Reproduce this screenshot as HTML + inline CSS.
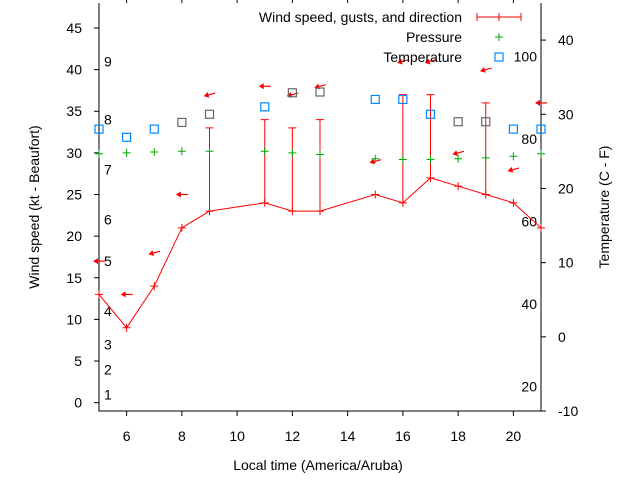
<!DOCTYPE html>
<html><head><meta charset="utf-8"><style>
body{margin:0;background:#fff}
svg{display:block;font-family:"Liberation Sans",sans-serif}
</style></head><body>
<svg id="chart" width="640" height="480">
<g id="axes"></g>
<g id="marks"></g>
<g id="legend"></g>
</svg>
<script>
const hours=[5,6,7,8,9,11,12,13,15,16,17,18,19,20,21];
const windSpeed=[13,9,14,21,23,24,23,23,25,24,27,26,25,24,21];
const gustHours=[9,11,12,13,16,17,19];
const gustSpeed=[33,34,33,34,37,37,36];
const arrowY=[17,13,18,25,37,38,37,38,29,41,41,30,40,28,36];
const arrowTilt=[0,0,15,0,15,0,15,15,15,15,15,15,15,15,0];
const pressure=[29.9,30,30.1,30.2,30.2,30.2,30,29.8,29.3,29.2,29.2,29.3,29.4,29.6,29.9];
const tempC=[28,26.9,28,28.9,30,31,32.9,33,32,32,30,29,29,28,28];
const xTicks=[6,8,10,12,14,16,18,20];
const yTicks=[0,5,10,15,20,25,30,35,40,45];
const y2Ticks=[-10,0,10,20,30,40];
const beaufort=[[1,1],[2,4],[3,7],[4,11],[5,17],[6,22],[7,28],[8,34],[9,41]];
const fahr=[20,40,60,80,100];

const NS="http://www.w3.org/2000/svg";
const L=99,R=541,T=3,B=411;
const X=h=>L+(h-5)/(21-5)*(R-L);
const Y=v=>B-(v-(-1))/(48-(-1))*(B-T);
const Y2=c=>B-(c-(-10))/(45-(-10))*(B-T);
function el(parent,tag,attrs,text){const e=document.createElementNS(NS,tag);for(const k in attrs)e.setAttribute(k,attrs[k]);if(text!==undefined)e.textContent=text;parent.appendChild(e);return e;}
const axes=document.getElementById('axes'),marks=document.getElementById('marks'),leg=document.getElementById('legend');
let e;
e=el(axes,'path',{d:`M${L} ${T}V${B}H${R}V${T}`,stroke:'#000',fill:'none','stroke-width':1});


xTicks.forEach(t=>{
 el(axes,'line',{x1:X(t),x2:X(t),y1:B,y2:B+5,stroke:'#000'});
 el(axes,'line',{x1:X(t),x2:X(t),y1:T,y2:T-5,stroke:'#000'});
 e=el(axes,'text',{x:X(t),y:441,'text-anchor':'middle','font-size':14},t);
 
 
});
yTicks.forEach(t=>{
 el(axes,'line',{x1:L-5,x2:L,y1:Y(t),y2:Y(t),stroke:'#000'});
 e=el(axes,'text',{x:82,y:Y(t)+5,'text-anchor':'end','font-size':14},t);
 
 
});
y2Ticks.forEach(t=>{
 el(axes,'line',{x1:R,x2:R+5,y1:Y2(t),y2:Y2(t),stroke:'#000'});
 e=el(axes,'text',{x:558,y:Y2(t)+5,'font-size':14},t);
 
 
});
beaufort.forEach(b=>{
 e=el(axes,'text',{x:104,y:Y(b[1])+5,'font-size':14},b[0]);
 
 
});
fahr.forEach(f=>{
 e=el(axes,'text',{x:537,y:Y2((f-32)*5/9)+5,'text-anchor':'end','font-size':14},f);
 
 
});
e=el(axes,'text',{x:318,y:470,'text-anchor':'middle','font-size':14},'Local time (America/Aruba)');


e=el(axes,'text',{x:0,y:0,'text-anchor':'middle','font-size':14,transform:'translate(39,207) rotate(-90)'},'Wind speed (kt - Beaufort)');


e=el(axes,'text',{x:0,y:0,'text-anchor':'middle','font-size':14,transform:'translate(609,207) rotate(-90)'},'Temperature (C - F)');



e=el(marks,'polyline',{points:hours.map((h,i)=>X(h)+','+Y(windSpeed[i])).join(' '),fill:'none',stroke:'#f00','stroke-width':1});


hours.forEach((h,i)=>{
 e=el(marks,'path',{d:`M${X(h)-4} ${Y(windSpeed[i])}h8M${X(h)} ${Y(windSpeed[i])-4}v8`,stroke:'#f00'});
 
 
});
gustHours.forEach((h,i)=>{
 const idx=hours.indexOf(h);const y0=Y(windSpeed[idx]),y1=Y(gustSpeed[i]);
 e=el(marks,'path',{d:`M${X(h)} ${y0}V${y1}M${X(h)-4} ${y1}h8`,stroke:'#f00'});
 
 
});
hours.forEach((h,i)=>{
 const cx=X(h),cy=Y(arrowY[i]);
 e=el(marks,'g',{transform:`translate(${cx},${cy}) rotate(${-arrowTilt[i]})`});
 
 
 el(e,'line',{x1:-4,x2:6,y1:0,y2:0,stroke:'#f00','stroke-width':1.2});
 el(e,'path',{d:'M-6 0L-1 -3L-1 3Z',fill:'#f00'});
});
hours.forEach((h,i)=>{
 e=el(marks,'path',{d:`M${X(h)-4} ${Y(pressure[i])}h8M${X(h)} ${Y(pressure[i])-4}v8`,stroke:'#0a0'});
 
 
});
const grayT=[8,9,12,13,18,19];
hours.forEach((h,i)=>{
 e=el(marks,'rect',{x:X(h)-4,y:Y2(tempC[i])-4,width:8,height:8,fill:'none',stroke:grayT.includes(h)?'#666':'#08f','stroke-width':1.2});
 
 
});

const lg=[['Wind speed, gusts, and direction',17],['Pressure',37],['Temperature',57]];
lg.forEach((l,i)=>{
 e=el(leg,'text',{x:462,y:l[1]+5,'text-anchor':'end','font-size':14},l[0]);
 
 
});
el(leg,'path',{d:'M477 17H521M477 13v8M521 13v8M499 13v8',stroke:'#f00'});
el(leg,'path',{d:'M495 37h8M499 33v8',stroke:'#0a0'});
el(leg,'rect',{x:495,y:53,width:8,height:8,fill:'none',stroke:'#08f','stroke-width':1.2});
</script>
</body></html>
